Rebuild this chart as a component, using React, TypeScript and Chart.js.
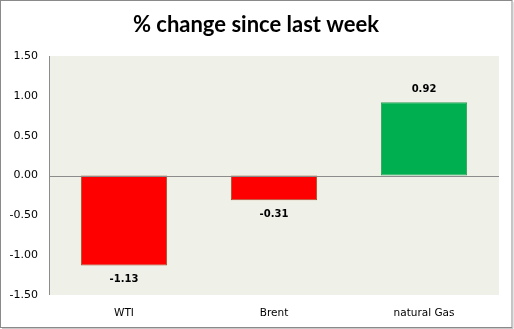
import React, { useEffect, useRef } from "react";
import { Chart, registerables } from "chart.js";

Chart.register(...registerables);

const categories = ["WTI", "Brent", "natural Gas"];
const changes = [-1.13, -0.31, 0.92];
const yTicks = [-1.5, -1.0, -0.5, 0.0, 0.5, 1.0, 1.5];
const titleText = "% change since last week";

const fillFor = (v: number) => (v < 0 ? "#FF0000" : "#00B050");
const borderFor = (v: number) => (v < 0 ? "#A0522D" : "#2E9E55");

const framePlugin = {
  id: "frame",
  beforeDraw(chart: any) {
    const { ctx, chartArea } = chart;
    ctx.save();
    ctx.fillStyle = "#FFFFFF";
    ctx.fillRect(0, 0, chart.width, chart.height);
    ctx.fillStyle = "#EFF0E8";
    ctx.fillRect(chartArea.left, chartArea.top, chartArea.right - chartArea.left, chartArea.bottom - chartArea.top);
    ctx.restore();
  },
  afterDraw(chart: any) {
    const { ctx, chartArea, scales } = chart;
    ctx.save();
    const y0 = Math.round(scales.y.getPixelForValue(0)) + 0.5;
    ctx.strokeStyle = "#8C8C8C";
    ctx.lineWidth = 1;
    ctx.beginPath();
    ctx.moveTo(chartArea.left, y0);
    ctx.lineTo(chartArea.right, y0);
    ctx.stroke();
    ctx.beginPath();
    ctx.moveTo(Math.round(chartArea.left) + 0.5, chartArea.top);
    ctx.lineTo(Math.round(chartArea.left) + 0.5, chartArea.bottom);
    ctx.stroke();
    ctx.fillStyle = "#000000";
    ctx.font = "bold 22px Lato";
    ctx.textAlign = "center";
    ctx.textBaseline = "middle";
    ctx.fillText(titleText, 256, 25);
    const meta = chart.getDatasetMeta(0);
    ctx.font = "bold 10px 'DejaVu Sans'";
    meta.data.forEach((bar: any, i: number) => {
      const v = changes[i];
      const y = v < 0 ? bar.y + 14 : bar.y - 13;
      ctx.fillText(v.toFixed(2), bar.x, y);
    });
    ctx.strokeStyle = "#8A8A8A";
    ctx.lineWidth = 1;
    ctx.strokeRect(0.5, 0.5, 511.5, 327);
    ctx.strokeStyle = "#C8C8C8";
    ctx.beginPath();
    ctx.moveTo(513, 2);
    ctx.lineTo(513, 328.5);
    ctx.moveTo(2, 328.5);
    ctx.lineTo(513, 328.5);
    ctx.stroke();
    ctx.restore();
  },
};

export default function App() {
  const ref = useRef<HTMLCanvasElement | null>(null);
  useEffect(() => {
    document.body.style.margin = "0";
    if (!ref.current) return;
    const chart = new Chart(ref.current, {
      type: "bar",
      data: {
        labels: categories,
        datasets: [
          {
            data: changes,
            backgroundColor: changes.map(fillFor),
            borderColor: changes.map(borderFor),
            borderWidth: 1,
            borderSkipped: false,
            categoryPercentage: 1,
            barPercentage: 0.575,
          },
        ],
      },
      options: {
        animation: false,
        responsive: false,
        maintainAspectRatio: false,
        layout: { padding: { left: 0, right: 15, top: 56, bottom: 4 } },
        plugins: {
          legend: { display: false },
          title: { display: false },
          tooltip: { enabled: false },
        },
        scales: {
          x: {
            grid: { display: false, drawTicks: false },
            border: { display: false },
            ticks: {
              color: "#000000",
              font: { family: "'DejaVu Sans'", size: 10.5 },
              padding: 12,
            },
            afterFit(scale: any) {
              scale.height = 30;
            },
          },
          y: {
            min: -1.5,
            max: 1.5,
            afterBuildTicks(scale: any) {
              scale.ticks = yTicks.map((v) => ({ value: v }));
            },
            grid: { display: false, drawTicks: false },
            border: { display: false },
            ticks: {
              color: "#000000",
              font: { family: "'DejaVu Sans'", size: 11 },
              padding: 11,
              callback: (v: any) => Number(v).toFixed(2),
            },
            afterFit(scale: any) {
              scale.width = 49;
            },
          },
        },
      },
      plugins: [framePlugin],
    });
    return () => chart.destroy();
  }, []);
  return <canvas ref={ref} width={514} height={329} style={{ display: "block" }} />;
}
